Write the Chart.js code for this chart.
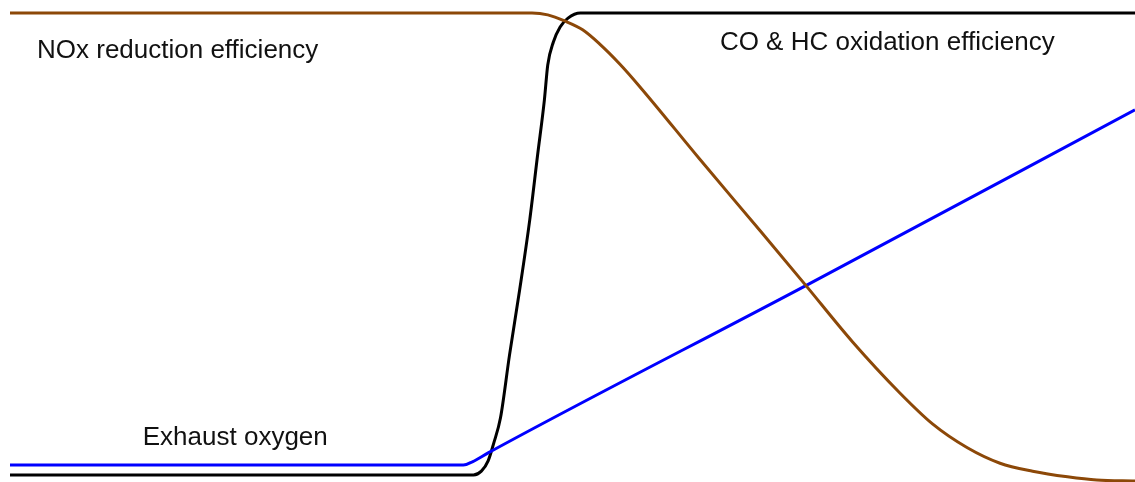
<!DOCTYPE html>
<html>
<head>
<meta charset="utf-8">
<title>Three-way catalyst window</title>
<script src="https://cdn.jsdelivr.net/npm/chart.js@4/dist/chart.umd.min.js"></script>
<style>
  html, body { margin: 0; padding: 0; background: #fff; }
  #wrap { width: 1135px; height: 482px; }
</style>
</head>
<body>
<div id="wrap"><canvas id="catChart" width="1135" height="482"></canvas></div>
<script>
// x = position across the lambda window (0..100), y = percent (0..100)
const noxX = [0, 46.4, 47.8, 49.3, 50.9, 52.4, 54.2, 56.0, 61.3, 66.7, 70.7, 74.9, 79.1, 82.0, 85.1, 88.0, 90.9, 94.0, 96.6, 100];
const noxY = [100, 100, 99.6, 98.3, 96.4, 93.4, 89.1, 84.2, 68.8, 53.4, 41.9, 29.7, 18.8, 12.2, 7.1, 3.8, 2.1, 0.9, 0.2, 0];

const coX = [0, 41.2, 41.9, 42.5, 43.0, 43.6, 44.4, 45.3, 46.2, 46.9, 47.5, 47.8, 48.3, 48.9, 49.6, 50.7, 100];
const coY = [1.3, 1.3, 2.1, 4.3, 8.1, 13.5, 26.9, 40.8, 55.8, 69.7, 81.4, 88.9, 93.8, 97.0, 98.9, 100, 100];

const o2X = [0, 40.3, 41.1, 42.5, 70.7, 100];
const o2Y = [3.4, 3.4, 4.1, 6.0, 41.7, 79.3];

const labels = [
  { text: 'NOx reduction efficiency', x: 2.4, y: 90.4 },
  { text: 'CO & HC oxidation efficiency', x: 63.1, y: 92.1 },
  { text: 'Exhaust oxygen', x: 11.8, y: 7.7 }
];

function toPoints(xs, ys) {
  return xs.map((x, i) => ({ x: x, y: ys[i] }));
}

// draws the curve captions at data positions
const captionPlugin = {
  id: 'captions',
  afterDatasetsDraw(chart) {
    const ctx = chart.ctx;
    const xs = chart.scales.x;
    const ys = chart.scales.y;
    ctx.save();
    ctx.fillStyle = '#111';
    ctx.font = '26px "Liberation Sans", Arial, sans-serif';
    ctx.textBaseline = 'alphabetic';
    labels.forEach(l => {
      ctx.fillText(l.text, xs.getPixelForValue(l.x), ys.getPixelForValue(l.y));
    });
    ctx.restore();
  }
};

const ctx = document.getElementById('catChart');
new Chart(ctx, {
  type: 'line',
  data: {
    datasets: [
      {
        label: 'NOx reduction efficiency',
        data: toPoints(noxX, noxY),
        borderColor: 'rgb(140, 72, 8)',
        borderWidth: 3,
        pointRadius: 0,
        fill: false,
        cubicInterpolationMode: 'monotone',
        clip: false
      },
      {
        label: 'Exhaust oxygen',
        data: toPoints(o2X, o2Y),
        borderColor: '#0000ff',
        borderWidth: 3,
        pointRadius: 0,
        fill: false,
        cubicInterpolationMode: 'monotone',
        clip: false
      },
      {
        label: 'CO & HC oxidation efficiency',
        data: toPoints(coX, coY),
        borderColor: '#000000',
        borderWidth: 3,
        pointRadius: 0,
        fill: false,
        cubicInterpolationMode: 'monotone',
        clip: false
      }
    ]
  },
  options: {
    responsive: false,
    animation: false,
    layout: { padding: { left: 10, right: 0, top: 13, bottom: 1 } },
    plugins: {
      legend: { display: false },
      tooltip: { enabled: false }
    },
    scales: {
      x: { type: 'linear', min: 0, max: 100, display: false },
      y: { type: 'linear', min: 0, max: 100, display: false }
    }
  },
  plugins: [captionPlugin]
});
</script>
</body>
</html>
